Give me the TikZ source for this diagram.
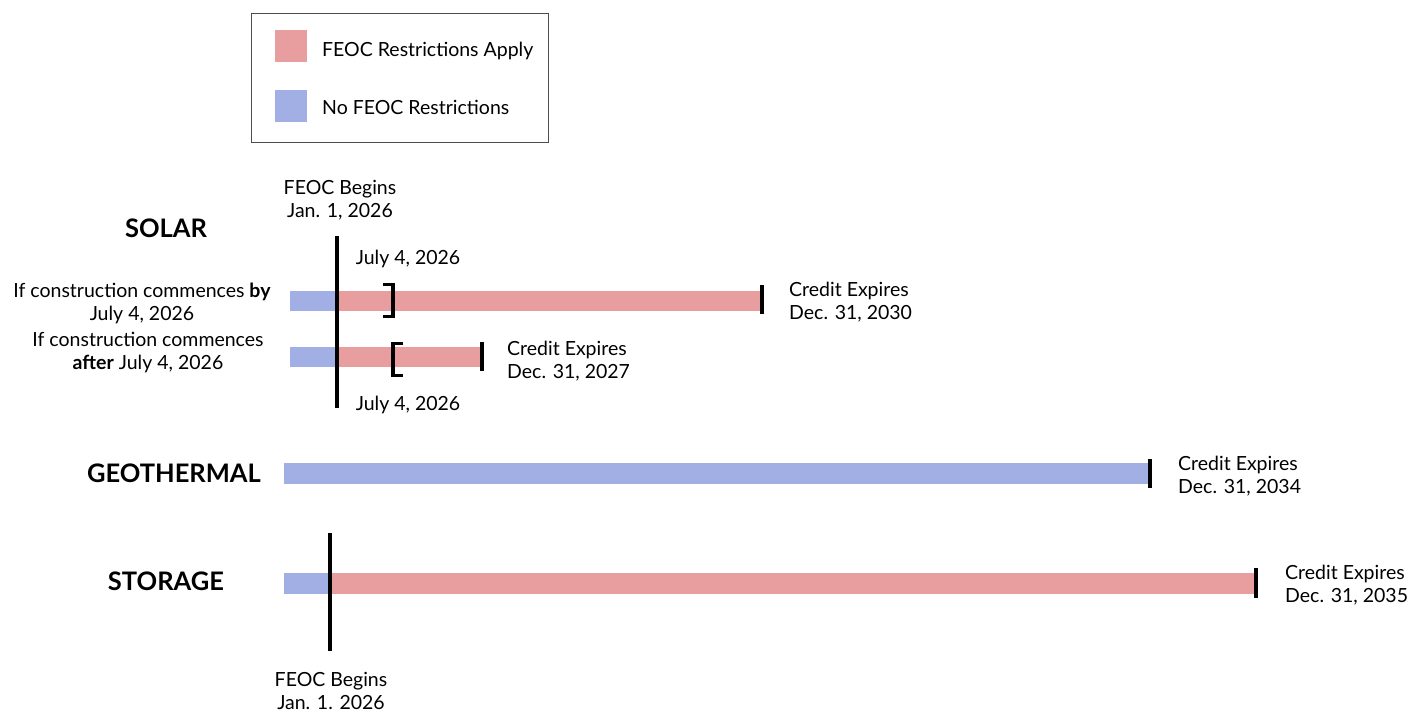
\documentclass[tikz,border=0pt]{standalone}
\usepackage{fontspec}
\setmainfont{Lato}
\definecolor{feocred}{HTML}{E89E9F}
\definecolor{feocblue}{HTML}{A1AFE5}
\tikzset{
  lbl/.style={font=\fontsize{19.5}{23}\selectfont, inner sep=0pt, align=center, yshift=-1.5pt},
  lbll/.style={font=\fontsize{19.5}{23}\selectfont, inner sep=0pt, align=left, anchor=west, yshift=-1.5pt},
  head/.style={font=\fontsize{25.5}{29}\selectfont\bfseries, inner sep=0pt},
  tick/.style={line width=3.2pt},
  bline/.style={line width=3.4pt},
  brk/.style={line width=3.2pt},
}
\begin{document}
\begin{tikzpicture}[x=1pt,y=-1pt]
\useasboundingbox (0,0) rectangle (1419,712);
% legend
\node[draw=black!70, line width=0.8pt, minimum width=297pt, minimum height=129pt, inner sep=0pt] (legend) at (399.5,77.5) {};
\fill[feocred] (275,30) rectangle (307,62);
\fill[feocblue] (275,90) rectangle (307,122);
\node[lbll] (lgr) at (322,49) {FEOC Restrictions Apply};
\node[lbll] (lgb) at (322,106) {No FEOC Restrictions};

% SOLAR
\node[head] (solar) at (166,228) {SOLAR};
\node[lbl] (feoc1) at (340,199) {FEOC Begins\\Jan. 1, 2026};
\node[lbl] (by) at (142,302) {If construction commences \textbf{by}\\July 4, 2026};
\node[lbl] (after) at (148,351) {If construction commences\\\textbf{after} July 4, 2026};
\fill[feocblue] (290,291) rectangle (337,311);
\fill[feocred] (337,291) rectangle (762,311);
\fill[feocblue] (290,347) rectangle (337,367);
\fill[feocred] (337,347) rectangle (482,367);
\coordinate (v1t) at (337,236);
\coordinate (v1b) at (337,408);
\draw[bline] (v1t) -- (v1b);
\draw[tick] (762,285) -- (762,314);
\draw[tick] (482,342) -- (482,371);
\draw[brk] (383,284.5) -- (393,284.5) -- (393,316.5) -- (383,316.5);
\draw[brk] (403,343.5) -- (393,343.5) -- (393,375.5) -- (403,375.5);
\node[lbl] (jul1) at (408,257) {July 4, 2026};
\node[lbl] (jul2) at (408,403) {July 4, 2026};
\node[lbll] (ce30) at (789,301) {Credit Expires\\Dec. 31, 2030};
\node[lbll] (ce27) at (507,360) {Credit Expires\\Dec. 31, 2027};

% GEOTHERMAL
\node[head] (geo) at (174,473) {GEOTHERMAL};
\fill[feocblue] (284,463) rectangle (1150,484);
\draw[tick] (1150,459) -- (1150,488);
\node[lbll] (ce34) at (1178,474.5) {Credit Expires\\Dec. 31, 2034};

% STORAGE
\node[head] (stor) at (166,581) {STORAGE};
\fill[feocblue] (284,573) rectangle (330,594);
\fill[feocred] (330,573) rectangle (1256,594);
\coordinate (v2t) at (330,533);
\coordinate (v2b) at (330,651);
\draw[bline] (v2t) -- (v2b);
\draw[tick] (1256,568) -- (1256,598);
\node[lbll] (ce35) at (1285,583.5) {Credit Expires\\Dec. 31, 2035};
\node[lbl] (feoc2) at (331,689) {FEOC Begins\\Jan. 1. 2026};
\end{tikzpicture}
\end{document}
